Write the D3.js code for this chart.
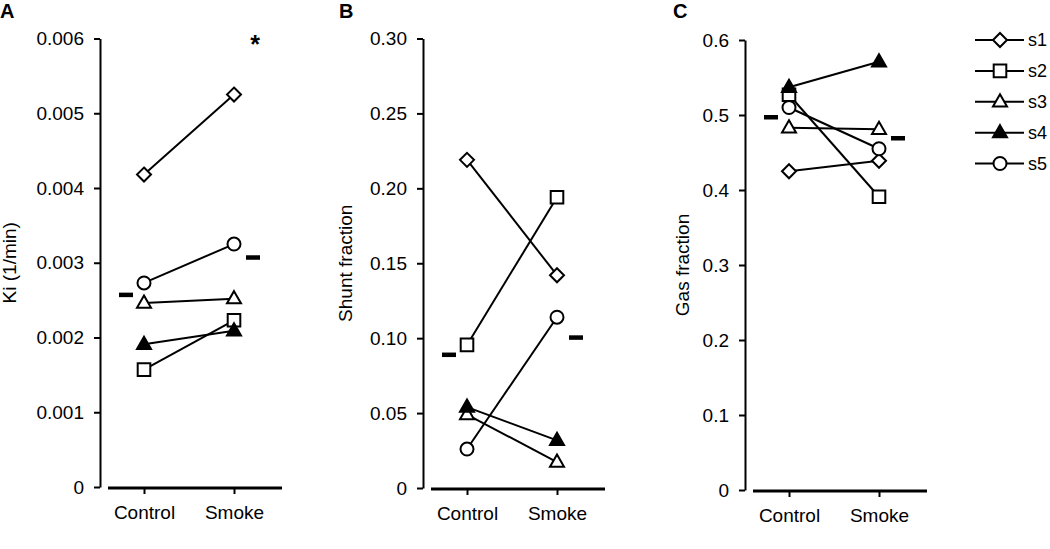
<!DOCTYPE html>
<html><head><meta charset="utf-8">
<script src="https://cdn.jsdelivr.net/npm/d3@7"></script>
<style>
body{margin:0;background:#fff}
svg{display:block}
text{font-family:"Liberation Sans",Arial,Helvetica,sans-serif;fill:#000}
</style>
</head><body>
<svg id="chart" width="1050" height="549"></svg>
<script>
// ---------- data ----------
const categories = ["Control", "Smoke"];
const seriesNames = ["s1", "s2", "s3", "s4", "s5"];
const seriesSymbols = ["diamond", "square", "triangle", "triangleFilled", "circle"];

const kiValues = [
  [0.00418, 0.00525],
  [0.00157, 0.00223],
  [0.00246, 0.00252],
  [0.00191, 0.00209],
  [0.00273, 0.00325]
];
const kiMeans = [0.00257, 0.00307];
const kiTicks = [0, 0.001, 0.002, 0.003, 0.004, 0.005, 0.006];
const kiTickLabels = ["0", "0.001", "0.002", "0.003", "0.004", "0.005", "0.006"];

const shuntValues = [
  [0.219, 0.142],
  [0.0955, 0.194],
  [0.049, 0.0173],
  [0.054, 0.0318],
  [0.026, 0.114]
];
const shuntMeans = [0.0889, 0.1004];
const shuntTicks = [0, 0.05, 0.10, 0.15, 0.20, 0.25, 0.30];
const shuntTickLabels = ["0", "0.05", "0.10", "0.15", "0.20", "0.25", "0.30"];

const gasValues = [
  [0.425, 0.439],
  [0.527, 0.391],
  [0.483, 0.481],
  [0.537, 0.571],
  [0.510, 0.455]
];
const gasMeans = [0.497, 0.469];
const gasTicks = [0, 0.1, 0.2, 0.3, 0.4, 0.5, 0.6];
const gasTickLabels = ["0", "0.1", "0.2", "0.3", "0.4", "0.5", "0.6"];

const panelLetters = ["A", "B", "C"];
const axisTitles = ["Ki (1/min)", "Shunt fraction", "Gas fraction"];

// ---------- layout ----------
const svg = d3.select("#chart");
const FONT = 19;

const panels = [
  {letter: panelLetters[0], title: axisTitles[0], values: kiValues, means: kiMeans, ticks: kiTicks, labels: kiTickLabels,
   axisX: 100, yTop: 38.5, yBot: 487, letterX: 0, titleX: 16, star: true},
  {letter: panelLetters[1], title: axisTitles[1], values: shuntValues, means: shuntMeans, ticks: shuntTicks, labels: shuntTickLabels,
   axisX: 423, yTop: 38.5, yBot: 488, letterX: 339, titleX: 352, star: false},
  {letter: panelLetters[2], title: axisTitles[2], values: gasValues, means: gasMeans, ticks: gasTicks, labels: gasTickLabels,
   axisX: 745, yTop: 40, yBot: 490, letterX: 673, titleX: 689, star: false}
];

function symbolPath(kind) {
  switch (kind) {
    case "diamond": return "M0,-7L7,0L0,7L-7,0Z";
    case "square": return "M-6.3,-6.3H6.3V6.3H-6.3Z";
    case "triangle":
    case "triangleFilled": return "M0,-7.5L7,4.7L-7,4.7Z";
    default: return null;
  }
}

function drawMarker(g, kind, x, y) {
  const fill = kind === "triangleFilled" ? "#000" : "#fff";
  if (kind === "circle") {
    g.append("circle").attr("cx", x).attr("cy", y).attr("r", 6.5)
      .attr("fill", fill).attr("stroke", "#000").attr("stroke-width", 2);
  } else {
    g.append("path").attr("d", symbolPath(kind)).attr("transform", `translate(${x},${y})`)
      .attr("fill", fill).attr("stroke", "#000").attr("stroke-width", 2).attr("stroke-linejoin", "miter");
  }
}

panels.forEach(p => {
  const g = svg.append("g");
  const y = d3.scaleLinear().domain([p.ticks[0], p.ticks[p.ticks.length - 1]]).range([p.yBot, p.yTop]);
  const x = d3.scalePoint().domain(categories).range([p.axisX + 44, p.axisX + 134]);

  // y axis
  const yAxis = d3.axisLeft(y).tickValues(p.ticks).tickFormat((d, i) => p.labels[i])
    .tickSize(6).tickSizeOuter(0).tickPadding(10);
  const ya = g.append("g").attr("transform", `translate(${p.axisX},0)`).call(yAxis);
  ya.select(".domain").attr("stroke-width", 2);
  ya.selectAll(".tick line").attr("stroke-width", 2);
  ya.selectAll(".tick text").attr("font-size", FONT).attr("font-family", null);

  // x axis (detached baseline)
  const baseY = p.yBot + 1;
  g.append("line").attr("x1", p.axisX + 8).attr("x2", p.axisX + 182)
    .attr("y1", baseY).attr("y2", baseY).attr("stroke", "#000").attr("stroke-width", 3);
  const xAxis = d3.axisBottom(x).tickSize(6).tickSizeOuter(0).tickPadding(12);
  const xa = g.append("g").attr("transform", `translate(0,${baseY})`).call(xAxis);
  xa.select(".domain").remove();
  xa.selectAll(".tick line").attr("stroke-width", 2);
  xa.selectAll(".tick text").attr("font-size", FONT).attr("font-family", null);

  // panel letter
  g.append("text").attr("x", p.letterX).attr("y", 18).attr("font-size", 20).attr("font-weight", "bold").text(p.letter);

  // y title
  g.append("text").attr("transform", `translate(${p.titleX},${(p.yTop + p.yBot) / 2}) rotate(-90)`)
    .attr("text-anchor", "middle").attr("font-size", 19).text(p.title);

  // lines
  const lg = g.append("g");
  p.values.forEach(v => {
    lg.append("line").attr("x1", x(categories[0])).attr("y1", y(v[0]))
      .attr("x2", x(categories[1])).attr("y2", y(v[1]))
      .attr("stroke", "#000").attr("stroke-width", 2);
  });
  // markers
  const mg = g.append("g");
  p.values.forEach((v, i) => {
    categories.forEach((c, j) => drawMarker(mg, seriesSymbols[i], x(c), y(v[j])));
  });
  // mean bars
  const meanOffsets = [-18, 19];
  p.means.forEach((m, j) => {
    g.append("rect").attr("x", x(categories[j]) + meanOffsets[j] - 7).attr("y", y(m) - 2.25)
      .attr("width", 14).attr("height", 4.5).attr("fill", "#000");
  });
  if (p.star) {
    g.append("text").attr("x", x(categories[1]) + 21).attr("y", y(p.ticks[p.ticks.length - 1]) + 14)
      .attr("text-anchor", "middle").attr("font-size", 25).attr("font-weight", "bold").text("*");
  }
});

// legend
const leg = svg.append("g");
const legY = d3.scalePoint().domain(seriesNames).range([40, 163.5]);
seriesNames.forEach((s, i) => {
  const yy = legY(s);
  leg.append("line").attr("x1", 975).attr("x2", 1024).attr("y1", yy).attr("y2", yy)
    .attr("stroke", "#000").attr("stroke-width", 2);
  drawMarker(leg, seriesSymbols[i], 1000, yy);
  leg.append("text").attr("x", 1028).attr("y", yy).attr("dy", "0.36em").attr("font-size", 18).text(s);
});
</script>
</body></html>
